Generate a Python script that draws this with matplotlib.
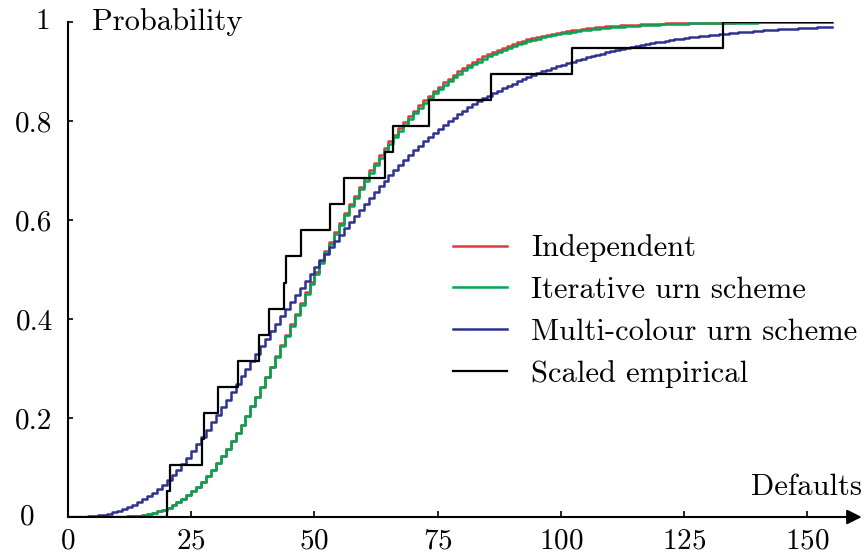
import matplotlib
matplotlib.use('Agg')
import matplotlib.pyplot as plt

plt.rcParams['font.family'] = 'cmr10'
plt.rcParams['axes.formatter.use_mathtext'] = True
plt.rcParams['font.size'] = 21

# number of defaults 0..155 (one value per integer)
defaults = list(range(156))

iterative = [
    0, 0, 0, 0, 0, 0, 0.0001, 0.0001, 0.0002, 0.0003,
    0.0005, 0.0008, 0.0013, 0.0020, 0.0030, 0.0043, 0.0061, 0.0084, 0.0112, 0.0146,
    0.0187, 0.0236, 0.0294, 0.0360, 0.0435, 0.0519, 0.0612, 0.0715, 0.0828, 0.0951,
    0.1082, 0.1223, 0.1372, 0.1529, 0.1694, 0.1867, 0.2047, 0.2233, 0.2425, 0.2621,
    0.2822, 0.3027, 0.3235, 0.3445, 0.3656, 0.3868, 0.4081, 0.4292, 0.4503, 0.4712,
    0.4919, 0.5123, 0.5325, 0.5523, 0.5717, 0.5907, 0.6094, 0.6275, 0.6452, 0.6623,
    0.6790, 0.6951, 0.7107, 0.7258, 0.7403, 0.7542, 0.7676, 0.7804, 0.7927, 0.8045,
    0.8157, 0.8265, 0.8367, 0.8465, 0.8557, 0.8645, 0.8729, 0.8808, 0.8883, 0.8954,
    0.9021, 0.9084, 0.9144, 0.9201, 0.9254, 0.9304, 0.9351, 0.9396, 0.9437, 0.9476,
    0.9513, 0.9547, 0.9579, 0.9609, 0.9637, 0.9663, 0.9687, 0.9710, 0.9731, 0.9750,
    0.9769, 0.9786, 0.9802, 0.9816, 0.9830, 0.9843, 0.9855, 0.9866, 0.9876, 0.9885,
    0.9894, 0.9902, 0.9909, 0.9916, 0.9923, 0.9929, 0.9934, 0.9939, 0.9944, 0.9948,
    0.9952, 0.9956, 0.9959, 0.9962, 0.9965, 0.9967, 0.9970, 0.9972, 0.9974, 0.9976,
    0.9978, 0.9980, 0.9981, 0.9983, 0.9984, 0.9985, 0.9986, 0.9987, 0.9988, 0.9989,
    0.9990, 0.9991, 0.9992, 0.9992, 0.9993, 0.9994, 0.9994, 0.9995, 0.9995, 0.9996,
    0.9996, 0.9996, 0.9997, 0.9997, 0.9997, 0.9998,
]

independent = [
    0, 0, 0, 0, 0, 0, 0.0001, 0.0001, 0.0002, 0.0003,
    0.0005, 0.0008, 0.0013, 0.0020, 0.0030, 0.0043, 0.0061, 0.0084, 0.0112, 0.0146,
    0.0187, 0.0236, 0.0294, 0.0360, 0.0435, 0.0519, 0.0612, 0.0715, 0.0828, 0.0951,
    0.1082, 0.1223, 0.1372, 0.1529, 0.1694, 0.1867, 0.2047, 0.2233, 0.2425, 0.2621,
    0.2832, 0.3037, 0.3255, 0.3465, 0.3686, 0.3898, 0.4111, 0.4332, 0.4543, 0.4752,
    0.4959, 0.5163, 0.5365, 0.5563, 0.5757, 0.5947, 0.6134, 0.6315, 0.6492, 0.6663,
    0.6840, 0.7001, 0.7157, 0.7308, 0.7453, 0.7592, 0.7726, 0.7854, 0.7977, 0.8095,
    0.8207, 0.8315, 0.8417, 0.8515, 0.8607, 0.8695, 0.8779, 0.8858, 0.8933, 0.9004,
    0.9071, 0.9134, 0.9194, 0.9251, 0.9304, 0.9354, 0.9399, 0.9442, 0.9481, 0.9518,
    0.9553, 0.9587, 0.9618, 0.9648, 0.9675, 0.9701, 0.9724, 0.9747, 0.9767, 0.9786,
    0.9804, 0.9820, 0.9835, 0.9848, 0.9861, 0.9873, 0.9884, 0.9894, 0.9903, 0.9911,
    0.9919, 0.9926, 0.9932, 0.9938, 0.9944, 0.9949, 0.9953, 0.9957, 0.9961, 0.9964,
    0.9967, 0.9970, 0.9972, 0.9974, 0.9976, 0.9977, 0.9979, 0.9980, 0.9982, 0.9983,
    0.9985, 0.9986, 0.9987, 0.9988, 0.9989, 0.9990, 0.9991, 0.9992, 0.9993, 0.9993,
    0.9994, 0.9995, 0.9995, 0.9995, 0.9996, 0.9996, 0.9997, 0.9997, 0.9997, 0.9998,
    0.9998, 0.9998, 0.9998, 0.9999, 0.9999, 0.9999,
]

multicolour = [
    0, 0.0001, 0.0003, 0.0007, 0.0013, 0.0021, 0.0034, 0.0050, 0.0069, 0.0092,
    0.0119, 0.0154, 0.0195, 0.0242, 0.0296, 0.0357, 0.0419, 0.0489, 0.0567, 0.0653,
    0.0747, 0.0849, 0.0959, 0.1077, 0.1202, 0.1334, 0.1472, 0.1615, 0.1762, 0.1912,
    0.2064, 0.2218, 0.2373, 0.2529, 0.2685, 0.2841, 0.2996, 0.3150, 0.3303, 0.3455,
    0.3606, 0.3756, 0.3905, 0.4053, 0.4200, 0.4346, 0.4491, 0.4634, 0.4775, 0.4914,
    0.5051, 0.5186, 0.5319, 0.5450, 0.5579, 0.5706, 0.5833, 0.5958, 0.6081, 0.6202,
    0.6321, 0.6443, 0.6562, 0.6678, 0.6791, 0.6901, 0.7008, 0.7112, 0.7213, 0.7311,
    0.7406, 0.7498, 0.7587, 0.7673, 0.7756, 0.7836, 0.7914, 0.7990, 0.8064, 0.8136,
    0.8206, 0.8273, 0.8337, 0.8398, 0.8456, 0.8511, 0.8564, 0.8615, 0.8664, 0.8711,
    0.8756, 0.8800, 0.8843, 0.8885, 0.8926, 0.8966, 0.9004, 0.9040, 0.9074, 0.9107,
    0.9139, 0.9170, 0.9200, 0.9229, 0.9257, 0.9284, 0.9311, 0.9337, 0.9362, 0.9386,
    0.9409, 0.9432, 0.9454, 0.9475, 0.9496, 0.9516, 0.9535, 0.9553, 0.9571, 0.9588,
    0.9604, 0.9619, 0.9634, 0.9648, 0.9662, 0.9675, 0.9688, 0.9700, 0.9712, 0.9723,
    0.9734, 0.9744, 0.9754, 0.9764, 0.9773, 0.9782, 0.9791, 0.9799, 0.9807, 0.9815,
    0.9822, 0.9829, 0.9836, 0.9843, 0.9849, 0.9855, 0.9861, 0.9867, 0.9872, 0.9877,
    0.9882, 0.9887, 0.9892, 0.9896, 0.9900, 0.9904,
]

# scaled empirical defaults: jump locations, 19 observations
empirical_x = [20.1, 20.6, 27.2, 27.6, 30.5, 34.5, 38.8, 40.8, 43.9, 44.2,
               47.2, 53.1, 55.9, 64.4, 66.0, 73.3, 85.9, 102.2, 132.9]
n_obs = 19
empirical_end = 155

xticks = [0, 25, 50, 75, 100, 125, 150]
yticks = [0, 0.2, 0.4, 0.6, 0.8, 1]
ytick_labels = ['', '0.2', '0.4', '0.6', '0.8', '']

red = '#e2373c'
green = '#00a651'
blue = '#2e3192'

fig = plt.figure(figsize=(8.65, 5.58), dpi=100)
ax = fig.add_axes([68 / 865, 41 / 558, 793.7 / 865, 495 / 558])

ax.step(defaults, independent, where='post', color=red, lw=1.8, label='Independent')
ax.step(defaults, iterative, where='post', color=green, lw=1.8, label='Iterative urn scheme')
ax.step(defaults, multicolour, where='post', color=blue, lw=1.8, label='Multi-colour urn scheme')

ex = [0] + empirical_x + [empirical_end]
ey = [0] + [(i + 1) / n_obs for i in range(n_obs)] + [1]
ax.step(ex, ey, where='post', color='black', lw=1.6, label='Scaled empirical')

ax.set_xlim(0, 161)
ax.set_ylim(0, 1)
for s in ['top', 'right', 'bottom']:
    ax.spines[s].set_visible(False)
ax.spines['left'].set_linewidth(1.5)
ax.annotate('', xy=(1, 0), xytext=(0, 0), xycoords='axes fraction',
            arrowprops=dict(arrowstyle='-|>', color='black', lw=1.5,
                            mutation_scale=22, shrinkA=0, shrinkB=0))

ax.set_xticks(xticks)
ax.set_yticks(yticks)
ax.set_yticklabels(ytick_labels)
ax.tick_params(axis='x', direction='in', length=4.5, width=1.2, pad=8)
ax.tick_params(axis='y', direction='in', length=3.5, width=1.2, pad=11)
ax.text(-0.052, 0, '0', transform=ax.get_yaxis_transform(), ha='center', va='center')
ax.text(-0.032, 1, '1', transform=ax.get_yaxis_transform(), ha='center', va='center')

fig.text(92 / 865, 1 - 30 / 558, 'Probability', ha='left', va='baseline', fontsize=22)
fig.text(862 / 865, 1 - 495 / 558, 'Defaults', ha='right', va='baseline', fontsize=22)

ax.legend(loc='upper left', bbox_to_anchor=(438 / 865, 1 - 219 / 558),
          bbox_transform=fig.transFigure, frameon=False, fontsize=22,
          handlelength=1.75, handletextpad=0.8, labelspacing=0.47, borderpad=0)

fig.savefig('out.png', dpi=100)
